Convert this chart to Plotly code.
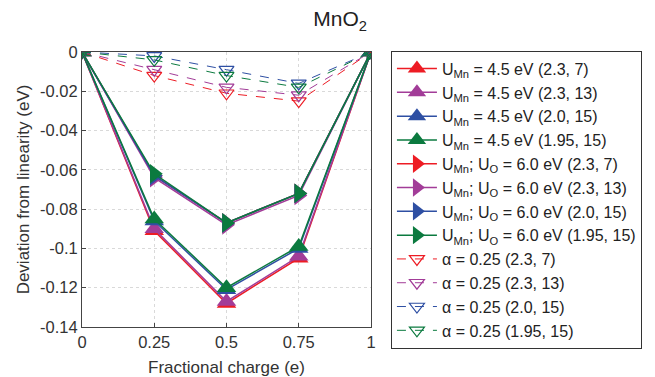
import plotly.graph_objects as go

x = [0, 0.25, 0.5, 0.75, 1]

colors = ["#ED1C24", "#A23C98", "#2E4FA3", "#0B7A3F"]
params = ["(2.3, 7)", "(2.3, 13)", "(2.0, 15)", "(1.95, 15)"]

u45 = [
    [0, -0.091, -0.128, -0.105, 0],
    [0, -0.090, -0.127, -0.104, 0],
    [0, -0.086, -0.121, -0.100, 0],
    [0, -0.085, -0.120, -0.099, 0],
]
u60 = [
    [0, -0.063, -0.087, -0.072, 0],
    [0, -0.064, -0.088, -0.073, 0],
    [0, -0.063, -0.087, -0.072, 0],
    [0, -0.062, -0.087, -0.072, 0],
]
alpha = [
    [0, -0.012, -0.021, -0.025, 0],
    [0, -0.009, -0.018, -0.022, 0],
    [0, -0.002, -0.009, -0.016, 0],
    [0, -0.004, -0.012, -0.018, 0],
]

fig = go.Figure()
for i in range(4):
    fig.add_trace(go.Scatter(
        x=x, y=u45[i], mode="lines+markers",
        line=dict(color=colors[i], width=1.5),
        marker=dict(symbol="triangle-up", size=17, color=colors[i]),
        name=f"U<sub>Mn</sub> = 4.5 eV {params[i]}"))
for i in range(4):
    fig.add_trace(go.Scatter(
        x=x, y=u60[i], mode="lines+markers",
        line=dict(color=colors[i], width=1.5),
        marker=dict(symbol="triangle-right", size=17, color=colors[i]),
        name=f"U<sub>Mn</sub>; U<sub>O</sub> = 6.0 eV {params[i]}"))
for i in range(4):
    fig.add_trace(go.Scatter(
        x=x, y=alpha[i], mode="lines+markers",
        line=dict(color=colors[i], width=1, dash="dash"),
        marker=dict(symbol="triangle-down-open", size=13, color=colors[i],
                    line=dict(width=1.2, color=colors[i])),
        name=f"α = 0.25 {params[i]}"))

axis_common = dict(
    showline=True, linecolor="#444", linewidth=1, mirror=True,
    showgrid=True, gridcolor="#d9d9d9", griddash="dot", gridwidth=1,
    ticks="inside", ticklen=4, tickcolor="#444", automargin=False,
    zeroline=False, tickfont=dict(size=16.5, color="#333"),
)

fig.update_xaxes(range=[0, 1], tickvals=[0, 0.25, 0.5, 0.75, 1],
                 ticktext=["0", "0.25", "0.5", "0.75", "1"],
                 title=dict(text="Fractional charge (e)", font=dict(size=17, color="#333"), standoff=12),
                 **axis_common)
fig.update_yaxes(range=[-0.14, 0], tickvals=[0, -0.02, -0.04, -0.06, -0.08, -0.1, -0.12, -0.14],
                 ticktext=["0", "-0.02", "-0.04", "-0.06", "-0.08", "-0.1", "-0.12", "-0.14"],
                 title=dict(text="Deviation from linearity (eV)", font=dict(size=17, color="#333"), standoff=6),
                 **axis_common)

fig.update_layout(
    width=655, height=377,
    margin=dict(l=82, r=284, t=52, b=50),
    plot_bgcolor="white", paper_bgcolor="white",
    font=dict(family="Liberation Sans, Arial, sans-serif", color="#222"),
    title=dict(text="MnO<sub>2</sub>", x=0.893, xref="paper", xanchor="center",
               y=0.95, yanchor="middle", font=dict(size=21, color="#222")),
    legend=dict(x=1.069, y=1.005, xanchor="left", yanchor="top",
                bordercolor="#333", borderwidth=1, bgcolor="white",
                font=dict(size=16, color="#222"), tracegroupgap=0,
                itemwidth=40, maxheight=400),
    showlegend=True,
)

fig.write_html("out.html")
